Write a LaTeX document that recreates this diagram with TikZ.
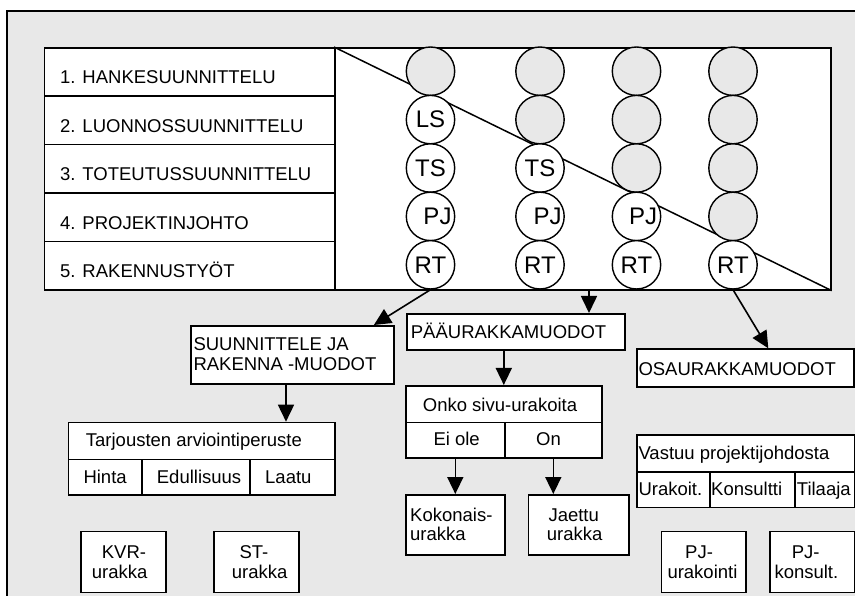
\documentclass[tikz,border=0pt]{standalone}
\usepackage{fontspec}
\setmainfont{Liberation Sans}
\usetikzlibrary{arrows.meta,calc}
\definecolor{bggrey}{HTML}{E8E8E8}
\begin{document}
\begin{tikzpicture}[x=1pt,y=-1pt,
  font=\fontsize{18.5}{20}\selectfont,
  box/.style={draw, line width=1.6pt, fill=white, inner sep=0pt, anchor=north west},
  lbl/.style={inner sep=0pt, anchor=base west},
  gc/.style={circle, draw, line width=1.4pt, fill=bggrey, minimum size=48.4pt, inner sep=0pt, font=\fontsize{24}{26}\selectfont},
  wc/.style={gc, fill=white},
  arr/.style={line width=1.6pt, -{Triangle[length=17pt,width=16pt]}},
  thinln/.style={line width=1.5pt}]
\useasboundingbox (0,0) rectangle (855,596);
% outer frame
\draw[line width=1.6pt, fill=bggrey] (7,11) rectangle (880,620);

% main table
\node[box, minimum width=290.3pt, minimum height=48.4pt] (r1) at (43.7,47) {};
\node[box, minimum width=290.3pt, minimum height=48.4pt] (r2) at (43.7,95.4) {};
\node[box, minimum width=290.3pt, minimum height=48.4pt] (r3) at (43.7,143.8) {};
\node[box, minimum width=290.3pt, minimum height=48.4pt] (r4) at (43.7,192.2) {};
\node[box, minimum width=290.3pt, minimum height=48.4pt] (r5) at (43.7,240.6) {};
\node[box, minimum width=496pt, minimum height=242pt] (grid) at (334,47) {};
\draw[thinln] (grid.north west) -- (grid.south east);

\node[lbl] (l1) at (60,84) {1. HANKESUUNNITTELU};
\node[lbl] (l2) at (60,132.5) {2. LUONNOSSUUNNITTELU};
\node[lbl] (l3) at (60,180.8) {3. TOTEUTUSSUUNNITTELU};
\node[lbl] (l4) at (60,229.3) {4. PROJEKTINJOHTO};
\node[lbl] (l5) at (60,277.8) {5. RAKENNUSTYÖT};

% circles column 1
\node[gc] (c11) at (430.5,71.2) {};
\node[wc] (c12) at (430.5,119.6) {LS};
\node[wc] (c13) at (430.5,168) {TS};
\node[wc] (c14) at (430.5,216.4) {\hspace*{14pt}PJ};
\node[wc] (c15) at (430.5,264.8) {RT};
% column 2
\node[gc] (c21) at (540,71.2) {};
\node[gc] (c22) at (540,119.6) {};
\node[wc] (c23) at (540,168) {TS};
\node[wc] (c24) at (540,216.4) {\hspace*{15pt}PJ};
\node[wc] (c25) at (540,264.8) {RT};
% column 3
\node[gc] (c31) at (636.5,71.2) {};
\node[gc] (c32) at (636.5,119.6) {};
\node[gc] (c33) at (636.5,168) {};
\node[wc] (c34) at (636.5,216.4) {\hspace*{13pt}PJ};
\node[wc] (c35) at (636.5,264.8) {RT};
% column 4
\node[gc] (c41) at (733,71.2) {};
\node[gc] (c42) at (733,119.6) {};
\node[gc] (c43) at (733,168) {};
\node[gc] (c44) at (733,216.4) {};
\node[wc] (c45) at (733,264.8) {RT};

% second level boxes
\node[box, minimum width=203.3pt, minimum height=58.3pt] (sjr) at (190,325) {};
\node[lbl] (sjr1) at (193.3,350.7) {SUUNNITTELE JA};
\node[lbl] (sjr2) at (193.3,370.7) {RAKENNA -MUODOT};

\node[box, minimum width=218pt, minimum height=36.3pt] (pau) at (406,313) {};
\node[lbl] (paut) at (410.7,339) {PÄÄURAKKAMUODOT};

\node[box, minimum width=217.3pt, minimum height=37.7pt] (osa) at (636,348.3) {};
\node[lbl] (osat) at (638.3,375) {OSAURAKKAMUODOT};

% Tarjousten table
\node[box, minimum width=266.6pt, minimum height=37pt] (th) at (67.7,421.7) {};
\node[box, minimum width=73.3pt, minimum height=35.6pt] (tc1) at (67.7,458.7) {};
\node[box, minimum width=108.3pt, minimum height=35.6pt] (tc2) at (141,458.7) {};
\node[box, minimum width=85pt, minimum height=35.6pt] (tc3) at (249.3,458.7) {};
\node[lbl] (tht) at (85.7,446.6) {Tarjousten arviointiperuste};
\node[lbl] (tc1t) at (83.3,483.5) {Hinta};
\node[lbl] (tc2t) at (156.7,483.5) {Edullisuus};
\node[lbl] (tc3t) at (265,483.5) {Laatu};

% Onko table
\node[box, minimum width=196pt, minimum height=36.7pt] (oh) at (405,385) {};
\node[box, minimum width=99pt, minimum height=35.6pt] (oc1) at (405,421.7) {};
\node[box, minimum width=97pt, minimum height=35.6pt] (oc2) at (504,421.7) {};
\node[lbl] (oht) at (422.7,411.7) {Onko sivu-urakoita};
\node[lbl] (oc1t) at (433.3,445.7) {Ei ole};
\node[lbl] (oc2t) at (536,445.7) {On};

\node[box, minimum width=99pt, minimum height=60pt] (koko) at (405,494) {};
\node[lbl] (koko1) at (410,521.7) {Kokonais-};
\node[lbl] (koko2) at (410,540.7) {urakka};
\node[box, minimum width=100.6pt, minimum height=60pt] (jae) at (527.7,494) {};
\node[lbl] (jae1) at (548.3,521.7) {Jaettu};
\node[lbl] (jae2) at (546.7,540.7) {urakka};

% Vastuu table
\node[box, minimum width=218pt, minimum height=36.7pt] (vh) at (636,434.3) {};
\node[box, minimum width=73.3pt, minimum height=35.7pt] (vc1) at (636,471) {};
\node[box, minimum width=85pt, minimum height=35.7pt] (vc2) at (709.3,471) {};
\node[box, minimum width=59.7pt, minimum height=35.7pt] (vc3) at (794.3,471) {};
\node[lbl] (vht) at (638.3,459) {Vastuu projektijohdosta};
\node[lbl] (vc1t) at (638.3,495) {Urakoit.};
\node[lbl] (vc2t) at (711,495) {Konsultti};
\node[lbl] (vc3t) at (796.7,495) {Tilaaja};

% bottom boxes
\node[box, minimum width=85pt, minimum height=61pt] (kvr) at (80,530.7) {};
\node[lbl] (kvr1) at (101.7,558.3) {KVR-};
\node[lbl] (kvr2) at (91.7,578.3) {urakka};
\node[box, minimum width=85pt, minimum height=61pt] (st) at (213.3,530.7) {};
\node[lbl] (st1) at (239.3,558.3) {ST-};
\node[lbl] (st2) at (231.7,578.3) {urakka};
\node[box, minimum width=84.3pt, minimum height=61pt] (pju) at (660.7,530.7) {};
\node[lbl] (pju1) at (685,558.3) {PJ-};
\node[lbl] (pju2) at (667.3,578.3) {urakointi};
\node[box, minimum width=84.7pt, minimum height=61pt] (pjk) at (769.3,530.7) {};
\node[lbl] (pjk1) at (791.7,558.3) {PJ-};
\node[lbl] (pjk2) at (774.3,578.3) {konsult.};

% connectors
\coordinate (sjrIn) at ($(sjr.north east)+(-21,0)$);
\coordinate (pauIn) at ($(pau.north west)+(183,0)$);
\coordinate (osaIn) at ($(osa.north west)+(132.3,0)$);
\coordinate (tabIn) at ($(sjr.south west)+(96,0)$);
\draw[arr] (c15.south) -- (sjrIn);
\draw[arr] (pauIn |- grid.south) -- (pauIn);
\draw[arr] (c45.south) -- (osaIn);
\draw[arr] (tabIn) -- (tabIn |- th.north);
\draw[arr] (oh.north |- pau.south) -- (oh.north);
\draw[arr] (oc1.south) -- (oc1.south |- koko.north);
\draw[arr] (oc2.south) -- (oc2.south |- jae.north);
\end{tikzpicture}
\end{document}
